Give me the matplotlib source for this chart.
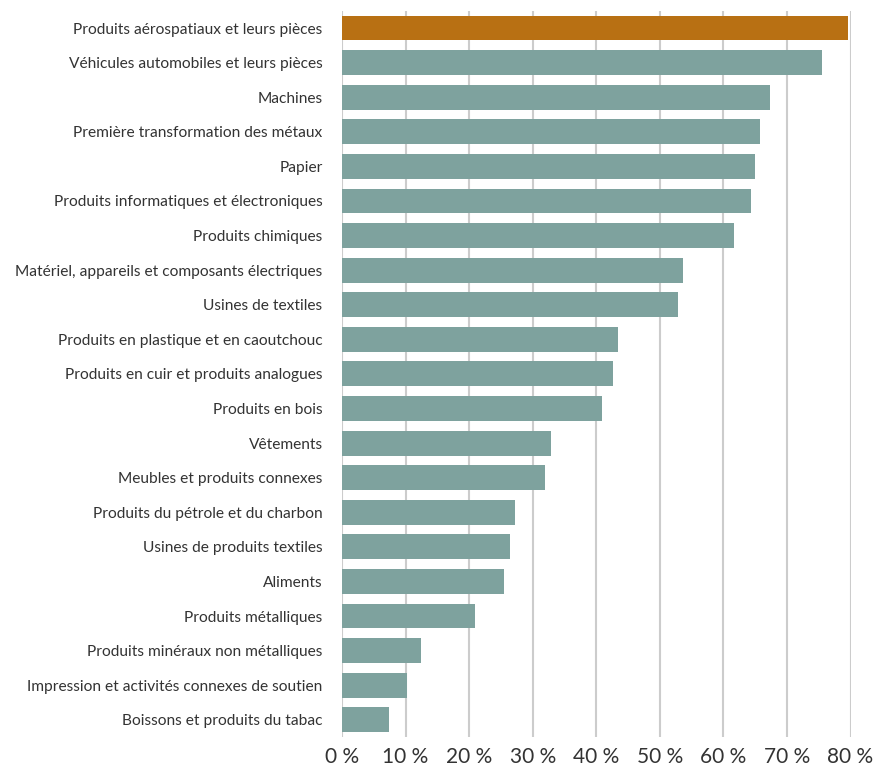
import matplotlib
matplotlib.use("Agg")
import matplotlib.pyplot as plt
from matplotlib.ticker import FuncFormatter

plt.rcParams['font.family'] = ['Lato', 'DejaVu Sans']

categories = [
    "Produits aérospatiaux et leurs pièces",
    "Véhicules automobiles et leurs pièces",
    "Machines",
    "Première transformation des métaux",
    "Papier",
    "Produits informatiques et électroniques",
    "Produits chimiques",
    "Matériel, appareils et composants électriques",
    "Usines de textiles",
    "Produits en plastique et en caoutchouc",
    "Produits en cuir et produits analogues",
    "Produits en bois",
    "Vêtements",
    "Meubles et produits connexes",
    "Produits du pétrole et du charbon",
    "Usines de produits textiles",
    "Aliments",
    "Produits métalliques",
    "Produits minéraux non métalliques",
    "Impression et activités connexes de soutien",
    "Boissons et produits du tabac",
]
values = [79.6, 75.5, 67.3, 65.7, 64.9, 64.3, 61.6, 53.7, 52.9, 43.4, 42.7,
          40.9, 32.9, 31.9, 27.2, 26.5, 25.5, 20.9, 12.5, 10.3, 7.4]
x_ticks = [0, 10, 20, 30, 40, 50, 60, 70, 80]

base_color = "#7ea29e"
highlight_color = "#b87013"
colors = [highlight_color] + [base_color] * (len(values) - 1)

fig = plt.figure(figsize=(8.87, 7.67), dpi=100)
ax = fig.add_axes([0.3856, 0.039, 0.5733, 0.947])

pos = list(range(len(categories)))
ax.barh(pos, values, height=0.72, color=colors, zorder=3)
ax.set_ylim(len(categories) - 0.5, -0.5)
ax.set_xlim(0, 80)
ax.set_yticks(pos)
ax.set_yticklabels(categories, fontsize=11.2, color="#333333")
ax.set_xticks(x_ticks)
ax.xaxis.set_major_formatter(FuncFormatter(lambda v, p: f"{int(v)} %"))
ax.tick_params(axis='x', labelsize=15, colors="#333333", length=0, pad=7)
ax.tick_params(axis='y', length=0, pad=14)

ax.grid(axis='x', color="#cccccc", linewidth=1.5, zorder=0)
ax.grid(axis='y', visible=False)
for s in ax.spines.values():
    s.set_visible(False)

fig.savefig("out.png", dpi=100)
